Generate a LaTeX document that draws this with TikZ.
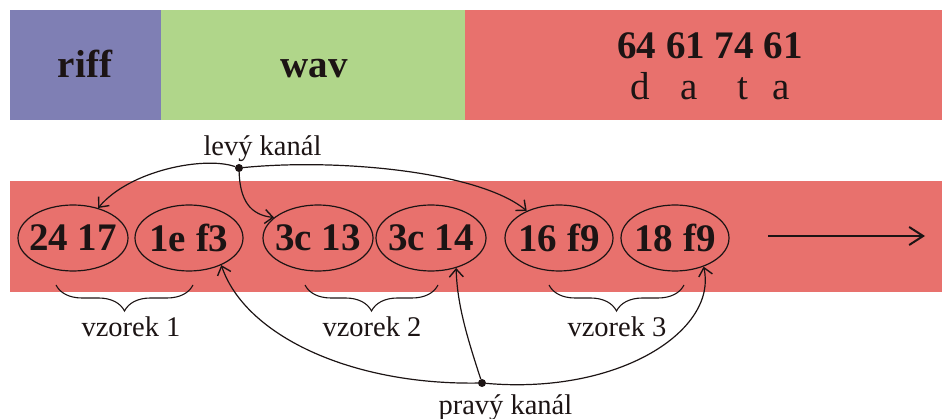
\documentclass[tikz,border=0pt]{standalone}
\usepackage{fontspec}
\setmainfont{Liberation Serif}
\usetikzlibrary{shapes.geometric,arrows.meta,decorations.pathreplacing}
\definecolor{cpurple}{RGB}{127,127,180}
\definecolor{cgreen}{RGB}{176,214,138}
\definecolor{cred}{RGB}{232,113,109}
\definecolor{cink}{RGB}{28,20,20}
\begin{document}
\begin{tikzpicture}[x=1pt,y=-1pt,
  byte/.style={ellipse, draw=cink, line width=1.2pt, minimum width=110pt, minimum height=66pt, inner sep=0pt, font=\fontsize{39}{41}\selectfont\bfseries, text=cink},
  head/.style={anchor=base, font=\fontsize{39}{41}\selectfont\bfseries, text=cink},
  headr/.style={anchor=base, font=\fontsize{39}{41}\selectfont, text=cink},
  lbl/.style={font=\fontsize{28.5}{30}\selectfont, text=cink},
  conn/.style={draw=cink, line width=1.2pt, -{Straight Barb[length=8pt,width=14pt,line width=1.4pt]}},
  jdot/.style={circle, fill=cink, inner sep=0pt, minimum size=8pt},
  brc/.style={draw=cink, line width=1.1pt, decorate, decoration={brace, mirror, amplitude=26pt}},
]
\useasboundingbox (0,0) rectangle (942,419);
% top header
\fill[cpurple] (10,10) rectangle (161,120);
\fill[cgreen] (161,10) rectangle (465,120);
\fill[cred] (465,10) rectangle (942,120);
\node[head] (riff) at (85,78) {riff};
\node[head] (wav) at (314,78) {wav};
\node[head] (hex) at (710,59) {64 61 74 61};
\node[headr] (data) at (710,100) {d\hspace{31pt}a\hspace{40pt}t\hspace{24pt}a};
% data stream
\fill[cred] (10,181) rectangle (942,292);
\node[byte] (e1) at (73,238) {\makebox[0pt]{24 17}};
\node[byte, minimum width=108pt] (e2) at (189,238) {\makebox[0pt]{1e f3}};
\node[byte] (e3) at (318,238) {\makebox[0pt]{3c 13}};
\node[byte] (e4) at (431,238) {\makebox[0pt]{3c 14}};
\node[byte, minimum width=108pt] (e5) at (559,238) {\makebox[0pt]{16 f9}};
\node[byte, minimum width=108pt] (e6) at (675,238) {\makebox[0pt]{18 f9}};
\coordinate (a1) at (768,236);
\coordinate (a2) at (925,236);
\draw[draw=cink, line width=2pt, -{Straight Barb[length=14pt,width=18pt,line width=2pt]}] (a1) -- (a2);
% braces
\coordinate (b1s) at (56,285); \coordinate (b1e) at (193,285);
\coordinate (b2s) at (305,285); \coordinate (b2e) at (438,285);
\coordinate (b3s) at (549,285); \coordinate (b3e) at (684,285);
\draw[brc] (b1s) -- (b1e);
\draw[brc] (b2s) -- (b2e);
\draw[brc] (b3s) -- (b3e);
\node[lbl, anchor=base] (v1) at (131,337) {vzorek 1};
\node[lbl, anchor=base] (v2) at (372,337) {vzorek 2};
\node[lbl, anchor=base] (v3) at (617,337) {vzorek 3};
% left channel
\node[lbl, anchor=base west] (lk) at (200,156) {levý kanál};
\node[jdot] (ld) at (239,168) {};
\draw[conn] (ld) .. controls (205,156) and (130,170) .. (e1.50);
\draw[conn] (ld) .. controls (240,200) and (250,215) .. (e3.155);
\draw[conn] (ld) .. controls (340,158) and (480,172) .. (e5.140);
% right channel
\node[lbl, anchor=base west] (pk) at (435,414) {pravý kanál};
\node[jdot] (rd) at (482,383) {};
\draw[conn] (rd) .. controls (350,385) and (245,335) .. (e2.-40);
\draw[conn] (rd) .. controls (468,340) and (457,305) .. (e4.-50);
\draw[conn] (rd) .. controls (620,395) and (718,330) .. (e6.-45);
\end{tikzpicture}
\end{document}
